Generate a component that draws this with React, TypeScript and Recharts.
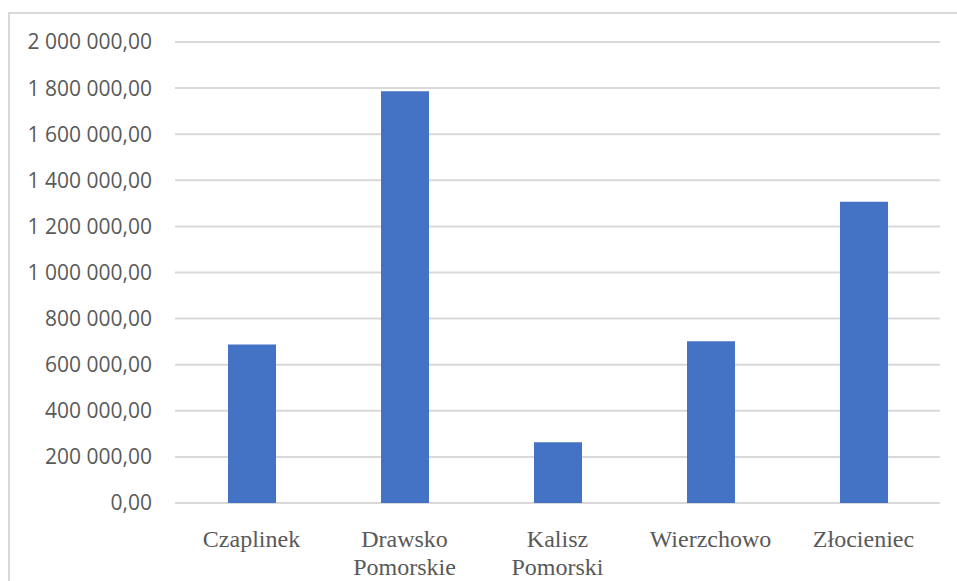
import React from "react";
import { BarChart, Bar, XAxis, YAxis, CartesianGrid } from "recharts";

const categories: string[] = ["Czaplinek", "Drawsko\nPomorskie", "Kalisz\nPomorski", "Wierzchowo", "Złocieniec"];
const values: number[] = [687600, 1786000, 263500, 702000, 1306700];
const yTicks: number[] = [0, 200000, 400000, 600000, 800000, 1000000, 1200000, 1400000, 1600000, 1800000, 2000000];

const data = categories.map((name, i) => ({ name, value: values[i] }));

const formatY = (v: number): string => {
  const intPart = Math.round(v).toString().replace(/\B(?=(\d{3})+(?!\d))/g, " ");
  return intPart + ",00";
};

const XTick = (props: any) => {
  const { x, y, payload } = props;
  const lines: string[] = String(payload.value).split("\n");
  return (
    <text
      x={x}
      y={y}
      textAnchor="middle"
      fill="#595959"
      fontFamily="'Liberation Serif', 'Times New Roman', serif"
      fontSize={24}
    >
      {lines.map((l, i) => (
        <tspan key={i} x={x} dy={i === 0 ? 36 : 28}>
          {l}
        </tspan>
      ))}
    </text>
  );
};

export default function App() {
  return (
    <div
      style={{
        position: "absolute",
        left: 0,
        top: 0,
        width: 957,
        height: 581,
        background: "#ffffff",
        overflow: "hidden",
      }}
    >
      <div
        style={{
          position: "absolute",
          left: 8,
          top: 12,
          width: 1000,
          height: 700,
          borderLeft: "2px solid #d9d9d9",
          borderTop: "2px solid #d9d9d9",
        }}
      />
      <div style={{ position: "absolute", left: 0, top: 0 }}>
        <BarChart
          width={957}
          height={581}
          data={data}
          margin={{ top: 42, right: 17, bottom: 0, left: 0 }}
        >
          <CartesianGrid vertical={false} stroke="#d9d9d9" strokeWidth={2} />
          <XAxis
            dataKey="name"
            axisLine={false}
            tickLine={false}
            height={78}
            interval={0}
            tick={<XTick />}
          />
          <YAxis
            width={175}
            domain={[0, 2000000]}
            ticks={yTicks}
            interval={0}
            axisLine={false}
            tickLine={false}
            tickSize={6}
            tickMargin={17}
            tickFormatter={formatY}
            tick={{ fill: "#595959", fontSize: 21, fontFamily: "'Open Sans', sans-serif" }}
          />
          <Bar dataKey="value" fill="#4472C4" barSize={48} isAnimationActive={false} />
        </BarChart>
      </div>
    </div>
  );
}
